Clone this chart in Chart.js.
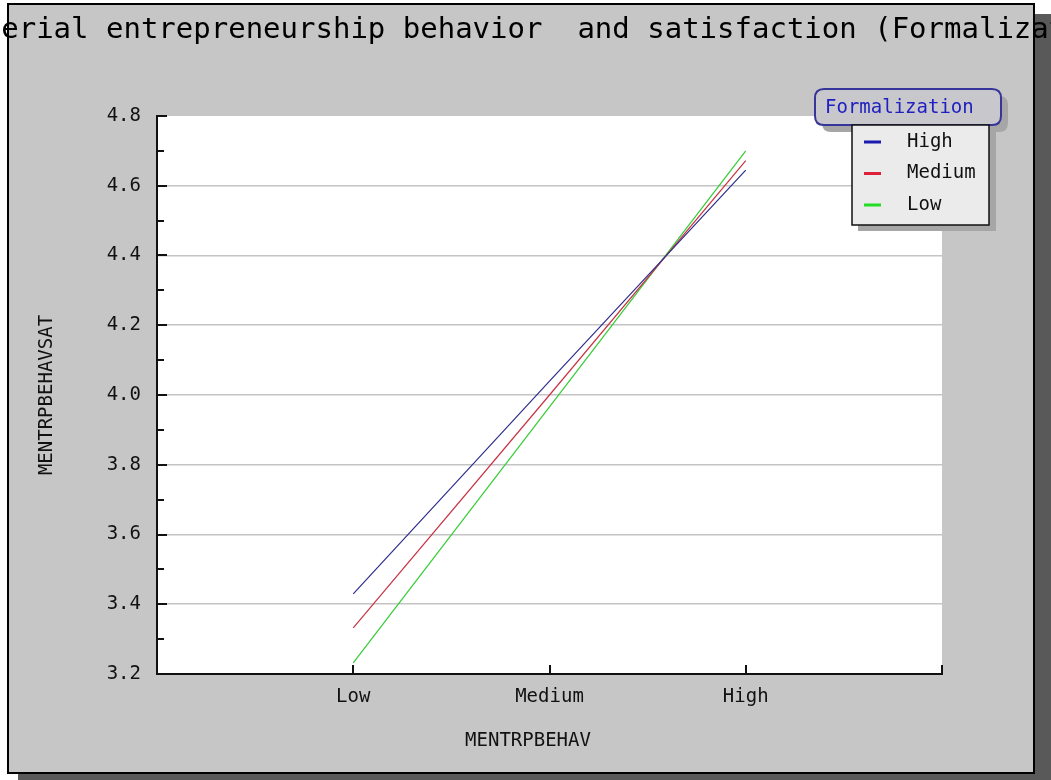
<!DOCTYPE html>
<html>
<head>
<meta charset="utf-8">
<script src="https://cdn.jsdelivr.net/npm/chart.js@4.4.1/dist/chart.umd.min.js"></script>
<style>
  html, body { margin: 0; padding: 0; background: #fff; }
  canvas { display: block; }
</style>
</head>
<body>
<canvas id="myChart" width="1051" height="780"></canvas>
<script>
// chart values
const titleText = 'Managerial entrepreneurship behavior  and satisfaction (Formalization)';
const categories = ['Low', 'Medium', 'High'];
const xTickLabels = ['', 'Low', 'Medium', 'High', ''];
const seriesNames = ['High', 'Medium', 'Low'];
const highValues = [3.43, 4.04, 4.645];
const mediumValues = [3.332, 4.0, 4.672];
const lowValues = [3.232, 3.966, 4.70];
const yMin = 3.2;
const yMax = 4.8;
const yStep = 0.2;
const legendTitle = 'Formalization';
const xTitle = 'MENTRPBEHAV';
const yTitle = 'MENTRPBEHAVSAT';

const lineColors = ['#2e2e8c', '#c83444', '#33cc33'];
const legendColors = ['#1a1ab0', '#e0203a', '#22dd22'];
const mono = '"DejaVu Sans Mono", "Liberation Mono", monospace';

// frame, shadow and white plot area
const backdrop = {
  id: 'backdrop',
  beforeDraw(chart) {
    const ctx = chart.ctx;
    const a = chart.chartArea;
    ctx.save();
    ctx.fillStyle = '#fff';
    ctx.fillRect(0, 0, chart.width, chart.height);
    ctx.fillStyle = '#595959';
    ctx.fillRect(18, 14, chart.width, chart.height);
    ctx.fillStyle = '#c6c6c6';
    ctx.fillRect(8, 4, 1026, 769);
    ctx.strokeStyle = '#000';
    ctx.lineWidth = 2;
    ctx.strokeRect(8, 4, 1026, 769);
    ctx.fillStyle = '#fff';
    ctx.fillRect(a.left, a.top, a.right - a.left, a.bottom - a.top);
    ctx.restore();
  }
};

// inward tick marks, x title, legend and clipped title
const decorations = {
  id: 'decorations',
  afterDraw(chart) {
    const ctx = chart.ctx;
    const a = chart.chartArea;
    const xs = chart.scales.x;
    const ys = chart.scales.y;
    ctx.save();
    ctx.strokeStyle = '#111';
    ctx.lineWidth = 2;
    // y ticks (major + minor) pointing into the plot
    const n = Math.round((yMax - yMin) / (yStep / 2));
    for (let i = 0; i <= n; i++) {
      const py = Math.round(ys.getPixelForValue(yMin + i * yStep / 2));
      const len = i % 2 === 0 ? 10 : 7;
      ctx.beginPath();
      ctx.moveTo(a.left, py);
      ctx.lineTo(a.left + len, py);
      ctx.stroke();
    }
    // x ticks pointing up
    for (let v = 1; v < xTickLabels.length; v++) {
      const px = Math.round(xs.getPixelForValue(v));
      ctx.beginPath();
      ctx.moveTo(px, a.bottom);
      ctx.lineTo(px, a.bottom - 9);
      ctx.stroke();
    }

    // x axis title (sits a little left of the plot centre)
    ctx.font = '19px ' + mono;
    ctx.fillStyle = '#111';
    ctx.textAlign = 'center';
    ctx.textBaseline = 'middle';
    ctx.fillText(xTitle, 528, 741);

    // legend title box
    ctx.fillStyle = '#a6a6a6';
    roundRect(ctx, 822, 96, 186, 36, 9);
    ctx.fill();
    ctx.fillStyle = '#c8c8cc';
    roundRect(ctx, 815, 89, 186, 36, 9);
    ctx.fill();
    ctx.strokeStyle = '#35359a';
    ctx.lineWidth = 2;
    ctx.stroke();
    ctx.fillStyle = '#2020c0';
    ctx.textAlign = 'left';
    ctx.fillText(legendTitle, 825, 108);

    // legend items box
    ctx.fillStyle = '#a6a6a6';
    ctx.fillRect(858, 131, 138, 100);
    ctx.fillStyle = '#ebebeb';
    ctx.fillRect(852, 125, 137, 100);
    ctx.strokeStyle = '#111';
    ctx.lineWidth = 1.5;
    ctx.strokeRect(852, 125, 137, 100);
    chart.data.datasets.forEach((ds, i) => {
      const yy = 142 + i * 31.5;
      ctx.strokeStyle = legendColors[i];
      ctx.lineWidth = 3;
      ctx.beginPath();
      ctx.moveTo(864, yy);
      ctx.lineTo(881, yy);
      ctx.stroke();
      ctx.fillStyle = '#111';
      ctx.fillText(ds.label, 907, yy);
    });

    // title, wider than the frame, clipped by the canvas
    ctx.font = '29px ' + mono;
    ctx.fillStyle = '#000';
    ctx.textAlign = 'center';
    ctx.fillText(titleText, 525, 30);
    ctx.restore();
  }
};

function roundRect(ctx, x, y, w, h, r) {
  ctx.beginPath();
  ctx.moveTo(x + r, y);
  ctx.lineTo(x + w - r, y);
  ctx.quadraticCurveTo(x + w, y, x + w, y + r);
  ctx.lineTo(x + w, y + h - r);
  ctx.quadraticCurveTo(x + w, y + h, x + w - r, y + h);
  ctx.lineTo(x + r, y + h);
  ctx.quadraticCurveTo(x, y + h, x, y + h - r);
  ctx.lineTo(x, y + r);
  ctx.quadraticCurveTo(x, y, x + r, y);
  ctx.closePath();
}

const seriesValues = [highValues, mediumValues, lowValues];

const ctx = document.getElementById('myChart').getContext('2d');
const myChart = new Chart(ctx, {
  type: 'line',
  data: {
    datasets: seriesNames.map((name, s) => ({
      label: name,
      data: categories.map((c, i) => ({ x: i + 1, y: seriesValues[s][i] })),
      borderColor: lineColors[s],
      backgroundColor: lineColors[s],
      borderWidth: 1.2,
      pointRadius: 0,
      tension: 0,
      fill: false
    }))
  },
  options: {
    responsive: false,
    animation: false,
    devicePixelRatio: 1,
    layout: { padding: { left: 0, top: 116, right: 109, bottom: 0 } },
    plugins: {
      legend: { display: false },
      title: { display: false },
      tooltip: { enabled: false }
    },
    scales: {
      x: {
        type: 'linear',
        position: 'bottom',
        min: 0,
        max: xTickLabels.length - 1,
        afterFit: (s) => { s.height = 106; },
        ticks: {
          stepSize: 1,
          autoSkip: false,
          maxRotation: 0,
          padding: 12,
          color: '#111',
          font: { family: mono, size: 19 },
          callback: (v) => xTickLabels[v] ?? ''
        },
        grid: { display: false, drawTicks: false },
        border: { display: true, color: '#111', width: 2 },
        title: { display: false }
      },
      y: {
        type: 'linear',
        min: yMin,
        max: yMax,
        afterFit: (s) => { s.width = 157; },
        ticks: {
          stepSize: yStep,
          padding: 16,
          color: '#111',
          font: { family: mono, size: 19 },
          callback: (v) => Number(v).toFixed(1)
        },
        grid: {
          drawTicks: false,
          lineWidth: 1.5,
          color: (c) => (c.tick && (Math.abs(c.tick.value - yMin) < 1e-6 || Math.abs(c.tick.value - yMax) < 1e-6)) ? 'rgba(0,0,0,0)' : '#c4c4c4'
        },
        border: { display: true, color: '#111', width: 2 },
        title: {
          display: true,
          text: yTitle,
          color: '#111',
          font: { family: mono, size: 19 },
          padding: { top: 36, bottom: 0 }
        }
      }
    }
  },
  plugins: [backdrop, decorations]
});
</script>
</body>
</html>
